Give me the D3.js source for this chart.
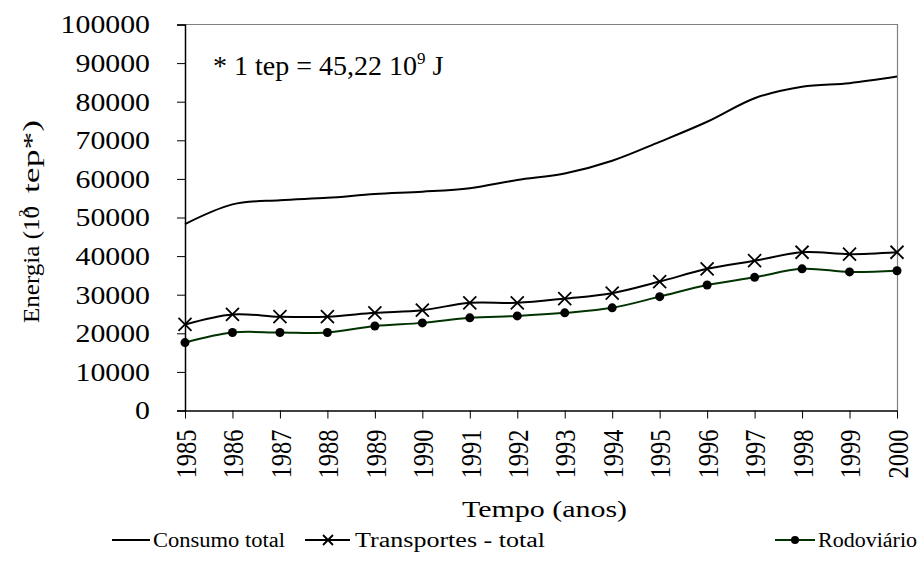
<!DOCTYPE html>
<html><head><meta charset="utf-8">
<script src="https://cdn.jsdelivr.net/npm/d3@7"></script>
<style>
body{margin:0;background:#fff;}
svg text{font-family:"Liberation Serif","Times New Roman",serif;fill:#000;}
</style></head>
<body><svg id="c" width="920" height="571"></svg>
<script>
const years = [1985,1986,1987,1988,1989,1990,1991,1992,1993,1994,1995,1996,1997,1998,1999,2000];
const consumoTotal = [48300,53400,54500,55100,56100,56700,57600,59700,61400,64700,69600,74800,80900,83900,84800,86500];
const transportesTotal = [22300,24900,24300,24300,25300,26000,27900,27900,29000,30400,33400,36700,38800,41000,40500,41000];
const rodoviario = [17600,20200,20200,20200,21900,22700,24000,24500,25300,26600,29500,32500,34500,36700,35900,36200];
const yTicks = [0,10000,20000,30000,40000,50000,60000,70000,80000,90000,100000];
const seriesNames = ["Consumo total","Transportes - total","Rodoviário"];

const svg = d3.select("#c");
const L=185, R=897, T=24.5, B=410.5;
const x = d3.scaleLinear().domain([1985,2000]).range([L,R]);
const y = d3.scaleLinear().domain([0,100000]).range([B,T]);

// frame top/right
svg.append("path").attr("d",`M${L},${T}H${R+0.5}V${B}`).attr("fill","none").attr("stroke","#808080").attr("stroke-width",1.2);

// y axis
const ya = svg.append("g").attr("transform",`translate(${L},0)`)
  .call(d3.axisLeft(y).tickValues(yTicks).tickFormat(d3.format("d")).tickSize(8).tickPadding(27));
ya.select(".domain").attr("stroke","#000").attr("stroke-width",1.5);
ya.selectAll(".tick line").attr("stroke","#000").attr("stroke-width",1);
ya.selectAll(".tick text").attr("font-size",24.5).attr("font-family","Liberation Serif").attr("dy","0.34em")
  .attr("textLength",d=>String(d).length*14.9).attr("lengthAdjust","spacingAndGlyphs");

// x axis
const xa = svg.append("g").attr("transform",`translate(0,${B})`)
  .call(d3.axisBottom(x).tickValues(years).tickFormat(d3.format("d")).tickSize(8).tickSizeOuter(0));
xa.select(".domain").attr("stroke","#000").attr("stroke-width",1.5);
xa.selectAll(".tick line").attr("stroke","#000").attr("stroke-width",1);
xa.selectAll(".tick text").attr("font-size",25).attr("font-family","Liberation Serif")
  .attr("text-anchor","end").attr("transform","scale(1.2,1) rotate(-90)").attr("x",-19).attr("y",0).attr("dy","0.34em")
  .attr("textLength",49).attr("lengthAdjust","spacingAndGlyphs");

const curve = d3.curveCatmullRom.alpha(0);
const line = d3.line().x((d,i)=>x(years[i])).y(d=>y(d)).curve(curve);

svg.append("path").datum(consumoTotal).attr("d",line).attr("fill","none").attr("stroke","#000").attr("stroke-width",2);
svg.append("path").datum(transportesTotal).attr("d",line).attr("fill","none").attr("stroke","#000").attr("stroke-width",2);
svg.append("path").datum(rodoviario).attr("d",line).attr("fill","none").attr("stroke","#003300").attr("stroke-width",2);

const xm = 6.5;
function cross(g,cx,cy,s){
  g.append("path").attr("d",`M${cx-s},${cy-s}L${cx+s},${cy+s}M${cx-s},${cy+s}L${cx+s},${cy-s}`).attr("stroke","#000").attr("stroke-width",1.8).attr("fill","none");
}
const mg = svg.append("g");
transportesTotal.forEach((v,i)=>cross(mg,x(years[i]),y(v),xm));
svg.append("g").selectAll("circle").data(rodoviario).join("circle")
  .attr("cx",(d,i)=>x(years[i])).attr("cy",d=>y(d)).attr("r",4.5).attr("fill","#000");

// annotation
const ann = svg.append("text").attr("x",213).attr("y",75).attr("font-size",28);
ann.append("tspan").text("* 1 tep = 45,22 10");
ann.append("tspan").text("9").attr("font-size",17).attr("dy",-11);
ann.append("tspan").text(" J").attr("dy",11);

// axis titles
svg.append("text").attr("x",462).attr("y",517).attr("font-size",24)
  .attr("textLength",165).attr("lengthAdjust","spacingAndGlyphs").text("Tempo (anos)");
const yg = svg.append("g").attr("transform","translate(39,323) rotate(-90)");
yg.append("text").attr("x",0).attr("y",0).attr("font-size",24).attr("textLength",117).attr("lengthAdjust","spacingAndGlyphs").text("Energia (10");
yg.append("text").attr("x",106).attr("y",-10).attr("font-size",15).text("3");
yg.append("text").attr("x",130).attr("y",0).attr("font-size",24).attr("textLength",73).attr("lengthAdjust","spacingAndGlyphs").text("tep*)");

// legend
const lg = svg.append("g").attr("font-size",20);
const ly = 540;
lg.append("line").attr("x1",112).attr("x2",150).attr("y1",ly).attr("y2",ly).attr("stroke","#000").attr("stroke-width",2);
lg.append("text").attr("x",153).attr("y",ly).attr("dy","0.35em").attr("textLength",132).attr("lengthAdjust","spacingAndGlyphs").text(seriesNames[0]);
lg.append("line").attr("x1",305).attr("x2",350).attr("y1",ly).attr("y2",ly).attr("stroke","#000").attr("stroke-width",2);
cross(lg,328,ly,5);
lg.append("text").attr("x",355).attr("y",ly).attr("dy","0.35em").attr("textLength",190).attr("lengthAdjust","spacingAndGlyphs").text(seriesNames[1]);
lg.append("line").attr("x1",775).attr("x2",815).attr("y1",ly).attr("y2",ly).attr("stroke","#003300").attr("stroke-width",2);
lg.append("circle").attr("cx",795).attr("cy",ly).attr("r",4).attr("fill","#000");
lg.append("text").attr("x",818).attr("y",ly).attr("dy","0.35em").attr("textLength",99).attr("lengthAdjust","spacingAndGlyphs").text(seriesNames[2]);
</script></body></html>
